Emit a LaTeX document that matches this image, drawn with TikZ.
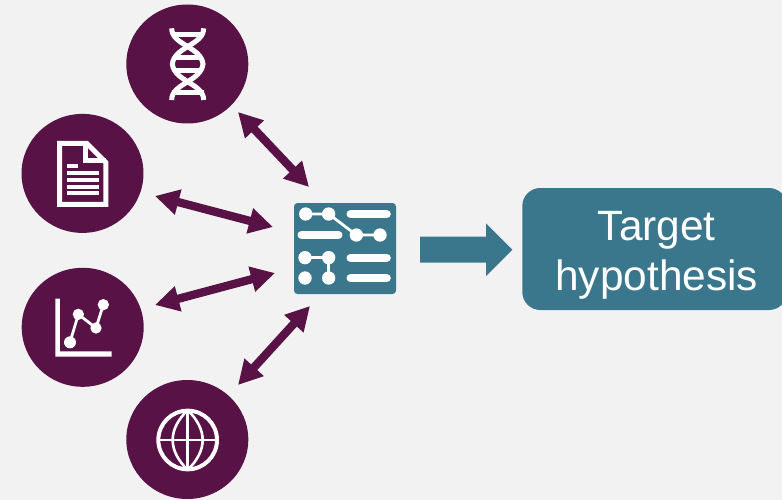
\documentclass[tikz,border=0pt]{standalone}
\usepackage{fontspec}
\setmainfont{Liberation Sans}
\usetikzlibrary{arrows.meta,shapes.geometric}
\definecolor{plum}{HTML}{581245}
\definecolor{teal}{HTML}{3A778C}
\definecolor{paper}{HTML}{F2F2F2}
\tikzset{
  source/.style={ellipse,fill=plum,inner sep=0pt,minimum width=122pt,minimum height=119pt},
  link/.style={draw=plum,line width=8.3pt,{Triangle[length=24pt,width=24.5pt]}-{Triangle[length=24pt,width=24.5pt]}},
  glyph/.style={draw=white,line width=5pt,fill=none},
  thinglyph/.style={draw=white,line width=2.6pt,fill=none},
  bar/.style={draw=white,line width=8.3pt,line cap=round},
  icon/.style={x=0.33333pt,y=-0.33333pt}
}
\begin{document}
\begin{tikzpicture}[x=1pt,y=-1pt]
\clip (0,0) rectangle (782,500);
\fill[paper] (0,0) rectangle (782,500);

% sources
\node[source] (dna) at (187.3,64) {};
\node[source] (doc) at (82.5,173.4) {};
\node[source] (chart) at (82.7,327.3) {};
\node[source] (globe) at (187.3,439.5) {};

% panel
\node[fill=teal,rounded corners=3.5pt,inner sep=0pt,minimum width=102pt,minimum height=91pt] (panel) at (345,248.5) {};

% target
\fill[teal,rounded corners=18pt] (522.3,188) rectangle (787,310);
\node[text=white,align=center,font=\fontsize{42.4}{50}\selectfont,inner sep=0pt] (target) at (656.7,255.5) {Target\\hypothesis};

% big arrow
\fill[teal] (420,236.7) -- (486,236.7) -- (486,223.3) -- (512.3,249.7) -- (486,276) -- (486,262.7) -- (420,262.7) -- cycle;

% connector ends
\coordinate (a1) at (238,112);
\coordinate (b1) at (309,187);
\coordinate (a2) at (155,196);
\coordinate (b2) at (273,227);
\coordinate (a3) at (155,305);
\coordinate (b3) at (275,273);
\coordinate (a4) at (238,385);
\coordinate (b4) at (310,306);
\draw[link] (a1) -- (b1);
\draw[link] (a2) -- (b2);
\draw[link] (a3) -- (b3);
\draw[link] (a4) -- (b4);

% DNA
\begin{scope}[shift={(120,0)},icon]
\draw[glyph] (155,85) .. controls (155,135) and (243,140) .. (249,192) .. controls (243,245) and (155,250) .. (155,300);
\draw[glyph] (251,85) .. controls (251,135) and (163,140) .. (157,192) .. controls (163,245) and (251,250) .. (251,300);
\draw[glyph] (155,105) -- (251,105);
\draw[glyph] (165,172) -- (241,172);
\draw[glyph] (165,212) -- (241,212);
\draw[glyph] (155,279) -- (251,279);
\end{scope}

% document
\begin{scope}[shift={(15,110)},icon]
\draw[glyph,miter limit=10] (134,100) -- (215,100) -- (273,158) -- (273,283) -- (134,283) -- cycle;
\draw[glyph] (212,100) -- (212,152) -- (273,152);
\fill[white] (156,161) rectangle (189,173);
\fill[white] (156,183) rectangle (252,195);
\fill[white] (156,204) rectangle (252,216);
\fill[white] (156,224) rectangle (252,236);
\fill[white] (156,243) rectangle (252,255);
\end{scope}

% chart
\begin{scope}[shift={(15,262)},icon]
\fill[white] (121,110) -- (135,110) -- (135,268) -- (290,268) -- (290,284) -- (121,284) -- cycle;
\draw[white,line width=2.8pt] (165,241) -- (190,157) -- (243,198) -- (265,128);
\fill[white] (165,241) circle (18);
\fill[white] (190,157) circle (17);
\fill[white] (243,198) circle (17);
\fill[white] (265,128) circle (17);
\end{scope}

% globe
\begin{scope}[shift={(120,375)},icon]
\draw[white,line width=4pt] (203,195) circle (88);
\draw[thinglyph] (203,105) -- (203,285);
\draw[thinglyph] (115,195) -- (291,195);
\draw[thinglyph] (203,105) .. controls (143,165) and (143,225) .. (203,285);
\draw[thinglyph] (203,105) .. controls (263,165) and (263,225) .. (203,285);
\end{scope}

% panel icon
\begin{scope}[shift={(285,195)},icon]
\draw[white,line width=2.8pt] (62,57) -- (131,57) -- (214,120) -- (285,120);
\draw[white,line width=2.8pt] (60,188) -- (131,188) -- (131,249);
\foreach \p in {(62,57),(131,57),(214,120),(285,120),(60,188),(131,188),(60,249),(131,249)}
  \fill[white] \p circle (20);
\draw[bar] (197,57.5) -- (305,57.5);
\draw[bar] (50,119.5) -- (160,119.5);
\draw[bar] (197,188.5) -- (305,188.5);
\draw[bar] (197,249.5) -- (305,249.5);
\end{scope}
\end{tikzpicture}
\end{document}
